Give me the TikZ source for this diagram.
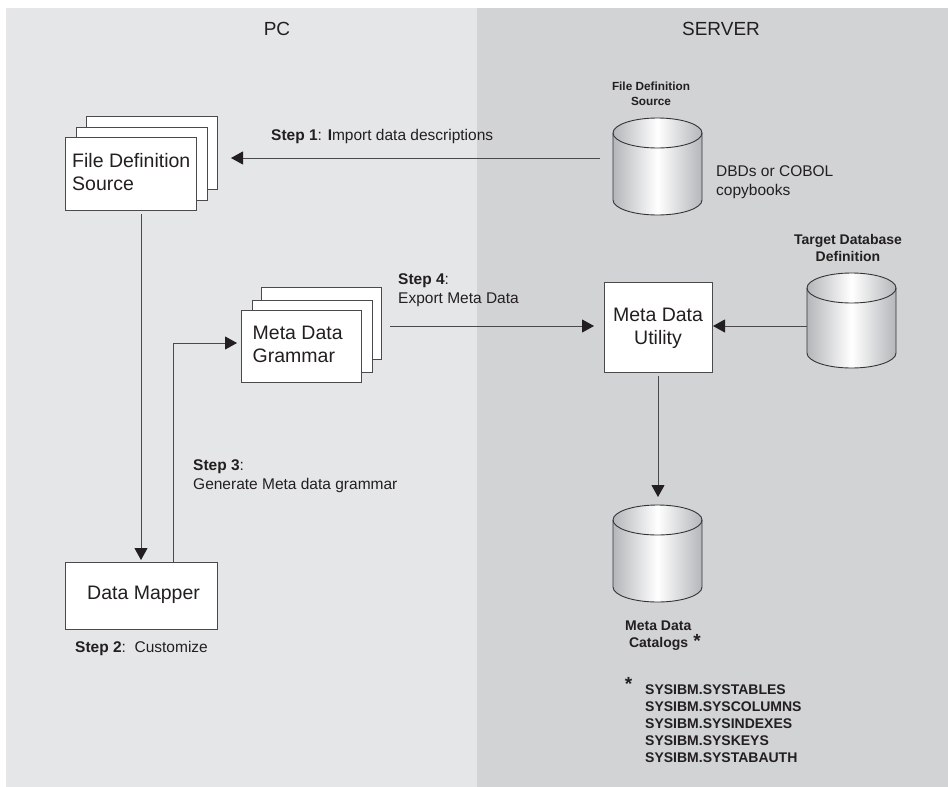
\documentclass[tikz,border=0pt]{standalone}
\usepackage{fontspec}
\setmainfont{Liberation Sans}
\usetikzlibrary{arrows.meta}
\definecolor{leftbg}{HTML}{E5E6E7}
\definecolor{rightbg}{HTML}{D1D3D4}
\definecolor{ink}{HTML}{231F20}
\definecolor{cylL}{HTML}{B4B6B9}
\definecolor{linegray}{HTML}{4A4A4C}
\tikzset{
  x=1pt,y=-1pt,
  sheet/.style={draw=linegray,line width=1pt,fill=white,rectangle,inner sep=0pt,anchor=north west},
  sheettext/.style={font=\fontsize{19.5}{23}\selectfont,text=ink,inner sep=0pt},
  conn/.style={draw=linegray,line width=1pt},
  head/.style={-{Triangle[length=12pt,width=13pt,color=ink]}},
  lbl/.style={font=\fontsize{15.5}{18.5}\selectfont,text=ink,inner sep=0pt,align=left,anchor=base west},
  blbl/.style={font=\fontsize{14}{17}\selectfont\bfseries,text=ink,inner sep=0pt,align=center,anchor=base},
  tit/.style={font=\fontsize{19}{23}\selectfont,text=ink,inner sep=0pt,anchor=base},
  starlbl/.style={font=\fontsize{19}{19}\selectfont\bfseries,text=ink,inner sep=0pt,anchor=base},
}
\newcommand{\cylinder}[4]{% name, left x, top centre y, bottom centre y
  \def\lx{#2}\def\ty{#3}\def\by{#4}
  \pgfmathsetmacro{\rx}{\lx+89}
  \pgfmathsetmacro{\mx}{\lx+44.5}
  \shade[left color=cylL,right color=cylL,middle color=white,shading=axis]
    (\lx,\ty) -- (\lx,\by) arc[start angle=180,end angle=360,x radius=44.5,y radius=-15]
    -- (\rx,\ty) arc[start angle=0,end angle=180,x radius=44.5,y radius=-15] -- cycle;
  \draw[linegray!70!black,line width=0.9pt]
    (\lx,\ty) -- (\lx,\by) arc[start angle=180,end angle=360,x radius=44.5,y radius=-15]
    -- (\rx,\ty);
  \draw[linegray!70!black,line width=0.9pt] (\mx,\ty) ellipse[x radius=44.5,y radius=15];
}
\begin{document}
\begin{tikzpicture}
\useasboundingbox (0,0) rectangle (948,787);
\fill[leftbg] (6,8) rectangle (477,787);
\fill[rightbg] (477,8) rectangle (948,787);

\node[tit] (pc) at (277,35) {PC};
\node[tit] (server) at (721,35) {SERVER};

% stacks
\node[sheet,minimum width=131pt,minimum height=73pt] (fdb) at (86,116) {};
\node[sheet,minimum width=131pt,minimum height=73pt] (fdm) at (76,127) {};
\node[sheet,minimum width=131pt,minimum height=73pt] (fd) at (65,137) {};
\node[sheettext,align=left,anchor=north west] (fdt) at (72,153) {File Definition\\Source};

\node[sheet,minimum width=120pt,minimum height=72pt] (mgb) at (261,287) {};
\node[sheet,minimum width=120pt,minimum height=72pt] (mgm) at (252,300) {};
\node[sheet,minimum width=120pt,minimum height=72pt] (mg) at (240.5,310) {};
\node[sheettext,align=left,anchor=north west] (mgt) at (252.5,325.5) {Meta Data\\Grammar};

\node[sheet,minimum width=152pt,minimum height=67pt] (dm) at (65,562) {};
\node[sheettext,anchor=base west] (dmt) at (87,599) {Data Mapper};

\node[sheet,minimum width=108pt,minimum height=90pt] (mu) at (604,282) {};
\node[sheettext,align=center,anchor=north] (mut) at (658,308) {Meta Data\\Utility};

% cylinders
\cylinder{c1}{613}{133}{200}
\cylinder{c2}{807}{288}{353}
\cylinder{c3}{613}{520}{587}

% connectors
\coordinate (s1) at (600,158);
\coordinate (a1) at (231,158);
\draw[conn,head] (s1) -- (a1);
\coordinate (d0) at (141,214);
\coordinate (d1) at (141,560);
\draw[conn,head] (d0) -- (d1);
\coordinate (u0) at (173.5,562);
\coordinate (u1) at (173.5,343);
\coordinate (u2) at (237,343);
\draw[conn,head] (u0) -- (u1) -- (u2);
\coordinate (e0) at (390,326);
\coordinate (e1) at (594,326);
\draw[conn,head] (e0) -- (e1);
\coordinate (t0) at (807,326);
\coordinate (t1) at (713,326);
\draw[conn,head] (t0) -- (t1);
\coordinate (m0) at (658,376);
\coordinate (m1) at (658,497);
\draw[conn,head] (m0) -- (m1);

% labels
\node[lbl] (l1) at (271,140) {\textbf{Step 1}: \textbf{I}mport data descriptions};
\node[blbl,font=\fontsize{11.8}{15}\selectfont\bfseries] (l2) at (651,105) {File Definition\\Source};
\node[lbl] (l3) at (716,195) {DBDs or COBOL\\copybooks};
\node[lbl] (l4) at (398,303) {\textbf{Step 4}:\\Export Meta Data};
\node[blbl] (l5) at (848,261.5) {Target Database\\Definition};
\node[lbl] (l6) at (193,489) {\textbf{Step 3}:\\Generate Meta data grammar};
\node[lbl] (l7) at (75,652) {\textbf{Step 2}:\ \ Customize};
\node[blbl,align=left,anchor=base west] (l8) at (625,647) {Meta Data\\\ Catalogs};
\node[starlbl] (st1) at (697,647) {*};
\node[starlbl] (st2) at (628.5,690) {*};
\node[blbl,align=left,anchor=base west] (l9) at (645,762) {SYSIBM.SYSTABLES\\SYSIBM.SYSCOLUMNS\\SYSIBM.SYSINDEXES\\SYSIBM.SYSKEYS\\SYSIBM.SYSTABAUTH};
\end{tikzpicture}
\end{document}
